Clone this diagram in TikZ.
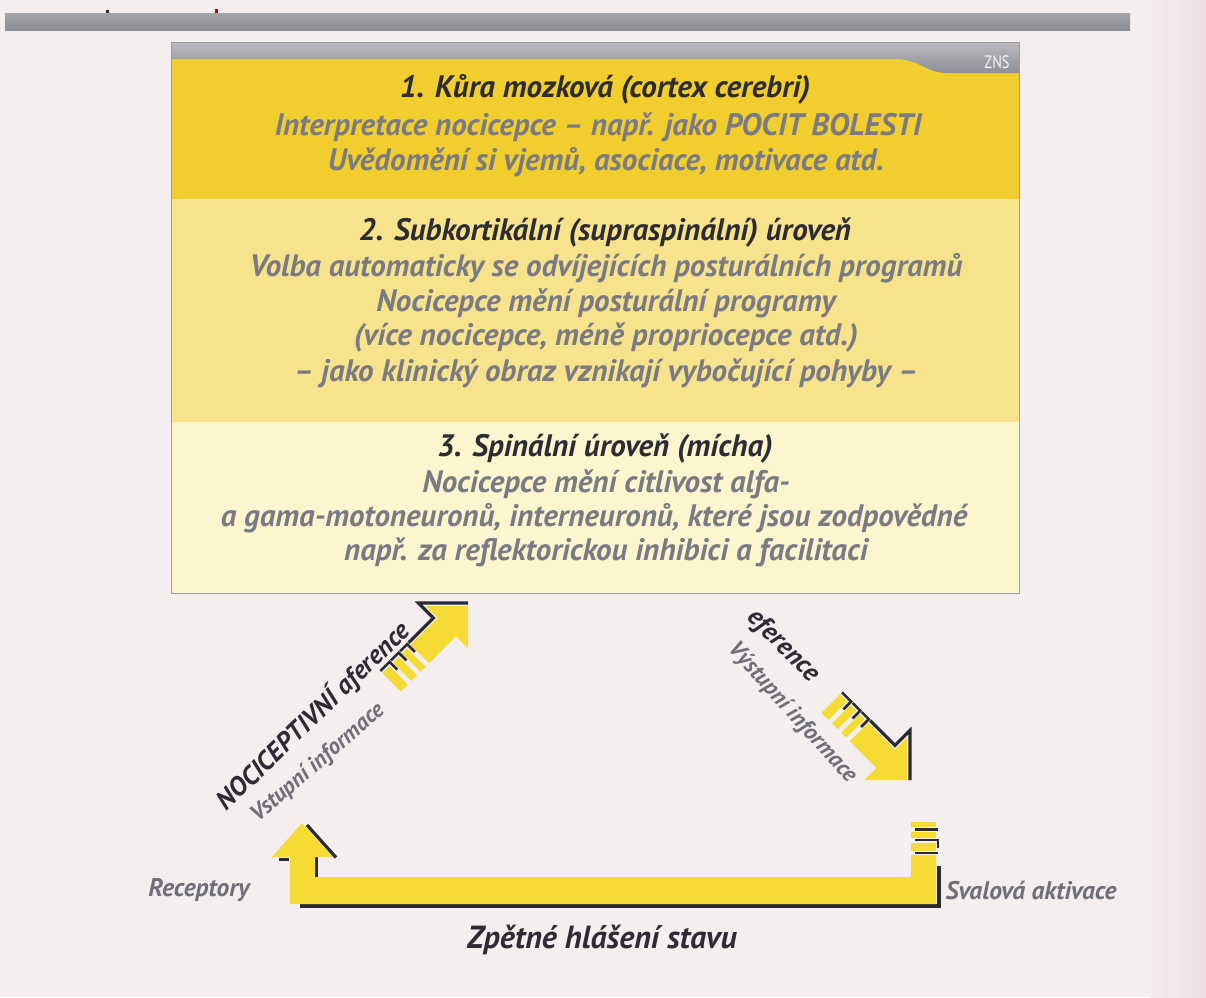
\documentclass[tikz,border=0pt]{standalone}
\usepackage{fontspec}
\setmainfont{PT Sans}
\newfontfamily\cf{PT Sans}
\newfontfamily\zf[FakeStretch=0.8]{PT Sans}
\definecolor{bg}{HTML}{F4EEEF}
\definecolor{bgpink}{HTML}{EFDDE3}
\definecolor{barc}{HTML}{8C8D92}
\definecolor{hdrtop}{HTML}{B9B9BE}
\definecolor{hdrbot}{HTML}{8F8F97}
\definecolor{layA}{HTML}{F1CE2E}
\definecolor{layB}{HTML}{F7E38C}
\definecolor{layC}{HTML}{FCF5CE}
\definecolor{frame}{HTML}{9C9C9E}
\definecolor{titlec}{HTML}{2D2C35}
\definecolor{bodyc}{HTML}{7A7A84}
\definecolor{arry}{HTML}{F5DB34}
\definecolor{blk}{HTML}{2A2A31}
\definecolor{labc}{HTML}{6F6F78}
\tikzset{
  ttl/.style={font=\cf\fontsize{31}{34}\selectfont\bfseries\itshape, text=titlec, inner sep=0pt},
  bdy/.style={font=\cf\fontsize{31}{34}\selectfont\bfseries\itshape, text=bodyc, inner sep=0pt},
  lab/.style={font=\cf\fontsize{25.5}{28}\selectfont\bfseries\itshape, text=labc, inner sep=0pt},
  dark/.style={font=\cf\fontsize{26.5}{29}\selectfont\bfseries\itshape, text=titlec, inner sep=0pt},
  sub/.style={font=\cf\fontsize{23}{26}\selectfont\bfseries\itshape, text=labc, inner sep=0pt},
  shadowline/.style={draw=blk, line width=3.2pt},
  yel/.style={fill=arry},
}
\begin{document}
\begin{tikzpicture}[x=1pt,y=1pt]
\useasboundingbox (0,0) rectangle (1206,-997);
\fill[bg] (0,0) rectangle (1206,-997);
\shade[left color=bg, right color=bgpink] (1150,0) rectangle (1206,-997);
% top bar and marks
\shade[top color=barc!80, bottom color=barc] (5,-13) rectangle (1130,-30);
\fill[blk] (106,-10) rectangle (109,-13);
\fill[red!75!black] (215,-9) rectangle (218,-13);
% box layers
\fill[layA] (171,-58) rectangle (1019,-199);
\fill[layB] (171,-199) rectangle (1019,-422);
\fill[layC] (171,-422) rectangle (1019,-593);
\shade[top color=hdrtop, bottom color=hdrbot] (171,-42) -- (1019,-42) -- (1019,-73) -- (948,-73)
   .. controls (925,-73) and (920,-59) .. (895,-59) -- (171,-59) -- cycle;
\draw[frame, line width=1pt] (171,-42) rectangle (1019,-593);
\node[font=\zf\fontsize{18}{20}\selectfont, text=white!93!gray, inner sep=0pt] (zns) at (997,-62) {ZNS};
% texts in box
\node[ttl] (t1) at (605,-89) {1. Kůra mozková (cortex cerebri)};
\node[bdy] (b1a) at (598,-127) {Interpretace nocicepce – např. jako POCIT BOLESTI};
\node[bdy] (b1b) at (606,-162) {Uvědomění si vjemů, asociace, motivace atd.};
\node[ttl] (t2) at (605,-233) {2. Subkortikální (supraspinální) úroveň};
\node[bdy] (b2a) at (606,-268) {Volba automaticky se odvíjejících posturálních programů};
\node[bdy] (b2b) at (606,-303) {Nocicepce mění posturální programy};
\node[bdy] (b2c) at (606,-338) {(více nocicepce, méně propriocepce atd.)};
\node[bdy] (b2d) at (606,-373) {– jako klinický obraz vznikají vybočující pohyby –};
\node[ttl] (t3) at (605,-449) {3. Spinální úroveň (mícha)};
\node[bdy] (b3a) at (606,-484) {Nocicepce mění citlivost alfa-};
\node[bdy] (b3b) at (594,-518) {a gama-motoneuronů, interneuronů, které jsou zodpovědné};
\node[bdy] (b3c) at (606,-552) {např. za reflektorickou inhibici a facilitaci};
% diagonal arrows (local frame: tip at origin, pointing +x)
\foreach \px/\py/\rot in {468/-606/45, 907/-780/-45}{
 \begin{scope}[shift={(\px,\py)}, rotate=\rot]
  \draw[shadowline] (2.1,2.1) -- (-33,37.2) -- (-33,16) -- (-68,16);
  \fill[yel] (0,0) -- (-30,30) -- (-30,13) -- (-68,13) -- (-68,-13) -- (-30,-13) -- (-30,-30) -- cycle;
  \foreach \a/\b in {-80/-73, -93/-85, -108/-98}{
    \fill[yel] (\a,-13) rectangle (\b,13);
    \draw[blk, line width=2.6pt] (\a,16) -- (\b+3,16) -- (\b+3,5);
  }
 \end{scope}
}
% feedback connector
\draw[shadowline] (300,-906) -- (940,-906);
\draw[shadowline] (939,-866) -- (939,-907.5);
\draw[shadowline] (307,-825) -- (336,-857.5);
\draw[shadowline] (316.5,-857) -- (316.5,-877);
\draw[shadowline] (279,-859.5) -- (289,-859.5);
\fill[yel] (302,-823) -- (333,-857) -- (315,-857) -- (315,-877) -- (911,-877) -- (911,-855)
   -- (936,-855) -- (936,-904) -- (290,-904) -- (290,-857) -- (272,-857) -- cycle;
\fill[yel] (911,-843) rectangle (936,-851);
\fill[yel] (911,-832) rectangle (936,-838);
\fill[yel] (911,-822) rectangle (936,-827);
\draw[blk, line width=2.6pt] (915,-829.5) -- (938,-829.5);
\draw[blk, line width=2.6pt] (915,-840) -- (938,-840) -- (938,-848);
\draw[blk, line width=2.6pt] (915,-853) -- (938,-853);
% labels
\node[lab] (lrec) at (199,-890) {Receptory};
\node[lab] (lsval) at (1031,-890) {Svalová aktivace};
\node[dark, font=\cf\fontsize{32}{35}\selectfont\bfseries\itshape] (lzpet) at (602,-940) {Zpětné hlášení stavu};
\node[dark, rotate=44] (lnoc) at (313,-716) {NOCICEPTIVNÍ aference};
\node[sub, rotate=41] (lvst) at (318,-763) {Vstupní informace};
\node[dark, rotate=-45] (lefe) at (783,-646) {eference};
\node[sub, rotate=-48] (lvys) at (792,-713) {Výstupní informace};
\end{tikzpicture}
\end{document}
